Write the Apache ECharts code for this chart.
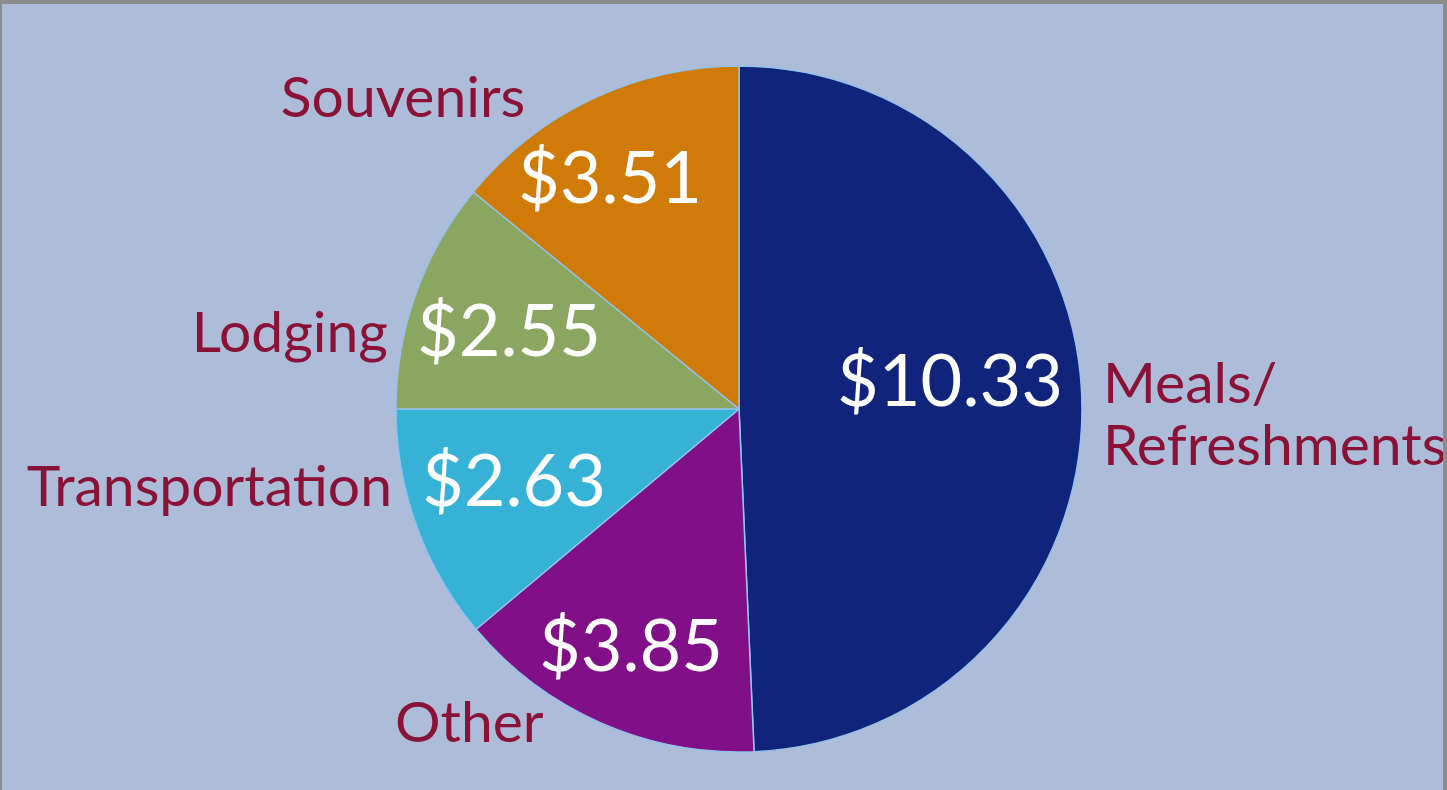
<!DOCTYPE html>
<html>
<head>
<meta charset="utf-8">
<script src="https://cdn.jsdelivr.net/npm/echarts@6/dist/echarts.min.js"></script>
<style>
  html, body { margin:0; padding:0; background:#adbcd8; overflow:hidden; }
  #main { position:absolute; left:0; top:0; width:1447px; height:790px; }
  .edge { position:absolute; background:#8c8c8c; }
</style>
</head>
<body>
<div id="main"></div>
<div class="edge" style="left:0;top:0;width:1447px;height:4px"></div>
<div class="edge" style="left:0;top:0;width:2px;height:790px"></div>
<div class="edge" style="left:1443px;top:0;width:4px;height:790px"></div>
<script>
// slices in clockwise order starting at 12 o'clock
var categories = ['Meals/\nRefreshments', 'Other', 'Transportation', 'Lodging', 'Souvenirs']
var amounts = [10.33, 3.85, 2.63, 2.55, 3.51]
// share of the circle each slice takes in the picture (%)
var shares = [49.3, 14.6, 11.1, 10.9, 14.1]
var colors = ['#0f247a', '#800f88', '#36b2d6', '#8aa660', '#d07a08']

// label anchors (chart pixels)
var innerSpots = [[950, 383], [631, 648], [514, 483], [509, 333], [610, 180]]
var outerSpots = [
  {x:1103, y:416, align:'left'},
  {x:395, y:724, align:'left'},
  {x:392, y:488, align:'right'},
  {x:388, y:334, align:'right'},
  {x:403, y:99, align:'center'}
]

var chart = echarts.init(document.getElementById('main'), null, {renderer:'canvas'})

var pieData = shares.map(function(v, i){
  return { value:v, name:categories[i], itemStyle:{color:colors[i]} }
})

var option = {
  backgroundColor:'#adbcd8',
  animation:false,
  series:[
    {
      type:'pie',
      center:[739, 409],
      radius:[0, 343],
      startAngle:90,
      clockwise:true,
      avoidLabelOverlap:false,
      itemStyle:{ borderColor:'#93c3ea', borderWidth:1.5 },
      label:{
        show:true,
        position:'inside',
        color:'#ffffff',
        fontFamily:'Lato',
        fontSize:72,
        formatter:function(p){ return '$' + amounts[p.dataIndex].toFixed(2) }
      },
      labelLine:{ show:false },
      labelLayout:function(p){
        var s = innerSpots[p.dataIndex]
        return { x:s[0], y:s[1], align:'center', verticalAlign:'middle' }
      },
      data:pieData
    },
    {
      type:'pie',
      silent:true,
      center:[739, 409],
      radius:[0, 343],
      startAngle:90,
      clockwise:true,
      avoidLabelOverlap:false,
      itemStyle:{ color:'rgba(0,0,0,0)', borderWidth:0 },
      label:{
        show:true,
        position:'outside',
        color:'#8a1236',
        fontFamily:'Lato',
        fontSize:57,
        lineHeight:62,
        formatter:function(p){ return categories[p.dataIndex] }
      },
      labelLine:{ show:false },
      labelLayout:function(p){
        var s = outerSpots[p.dataIndex]
        return { x:s.x, y:s.y, align:s.align, verticalAlign:'middle' }
      },
      data:shares.map(function(v, i){ return { value:v, name:categories[i] } })
    }
  ]
}
chart.setOption(option)
</script>
</body>
</html>
